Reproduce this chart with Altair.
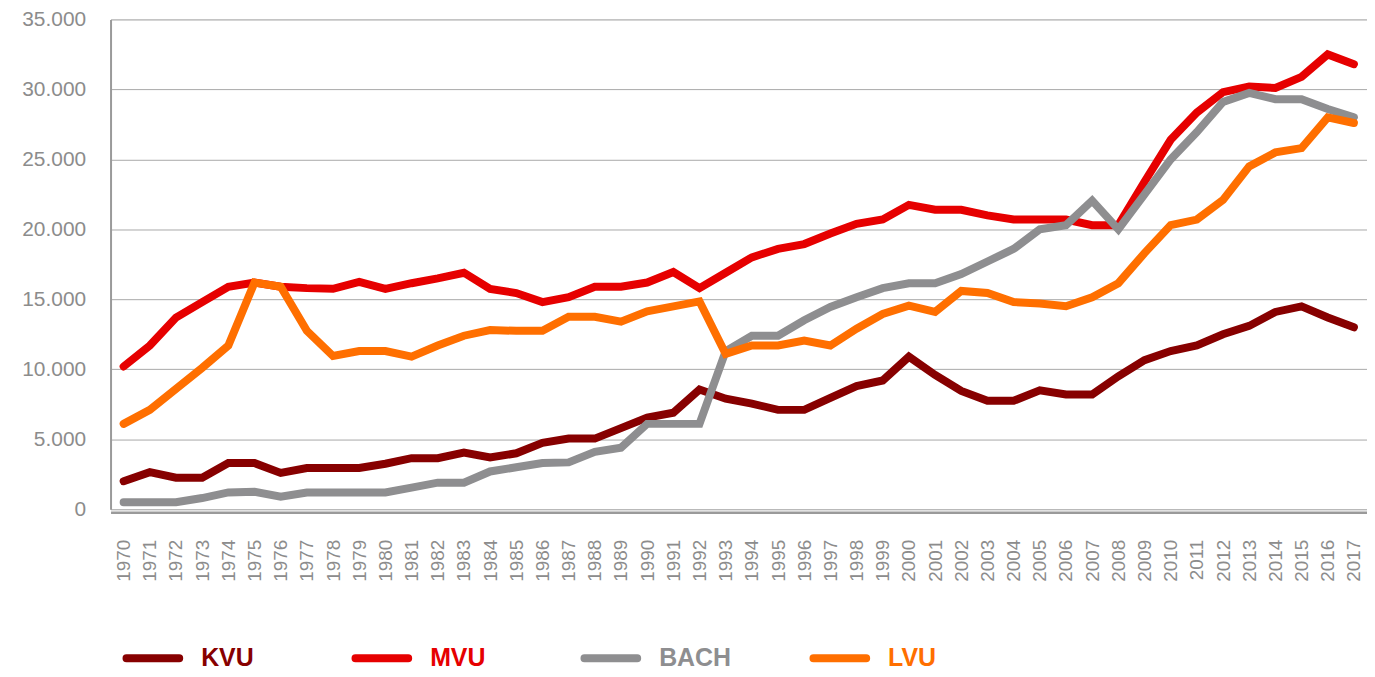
import altair as alt
import pandas as pd

years = ["1970", "1971", "1972", "1973", "1974", "1975", "1976", "1977", "1978", "1979",
         "1980", "1981", "1982", "1983", "1984", "1985", "1986", "1987", "1988", "1989",
         "1990", "1991", "1992", "1993", "1994", "1995", "1996", "1997", "1998", "1999",
         "2000", "2001", "2002", "2003", "2004", "2005", "2006", "2007", "2008", "2009",
         "2010", "2011", "2012", "2013", "2014", "2015", "2016", "2017"]

kvu = [2000, 2650, 2250, 2250, 3300, 3300, 2600, 2950, 2950, 2950,
       3250, 3650, 3650, 4050, 3700, 4000, 4750, 5050, 5050, 5800,
       6550, 6900, 8550, 7900, 7550, 7100, 7100, 7950, 8800, 9200,
       10900, 9600, 8450, 7750, 7750, 8500, 8200, 8200, 9500, 10650,
       11300, 11700, 12500, 13100, 14100, 14500, 13700, 13000]

mvu = [10200, 11700, 13700, 14800, 15900, 16200, 15900, 15800, 15750, 16250,
       15750, 16150, 16500, 16900, 15750, 15450, 14800, 15150, 15900, 15900,
       16200, 16950, 15800, 16900, 18000, 18600, 18950, 19700, 20400, 20700,
       21750, 21400, 21400, 21000, 20700, 20700, 20700, 20300, 20300, 23400,
       26400, 28350, 29800, 30200, 30100, 30900, 32500, 31800]

bach = [500, 500, 500, 800, 1200, 1250, 900, 1200, 1200, 1200,
        1200, 1550, 1900, 1900, 2700, 3000, 3300, 3350, 4100, 4400,
        6100, 6100, 6100, 11300, 12400, 12400, 13500, 14450, 15150, 15800,
        16150, 16150, 16800, 17700, 18600, 20000, 20300, 22050, 20000, 22500,
        25000, 26950, 29100, 29750, 29300, 29300, 28600, 28000]

lvu = [6100, 7100, 8600, 10100, 11700, 16200, 15900, 12750, 10950, 11300,
       11300, 10900, 11700, 12400, 12800, 12750, 12750, 13750, 13750, 13400,
       14150, 14500, 14850, 11100, 11700, 11700, 12050, 11700, 12900, 13950,
       14550, 14100, 15600, 15450, 14800, 14700, 14500, 15150, 16150, 18300,
       20300, 20700, 22100, 24500, 25500, 25800, 28000, 27600]

series_names = ["KVU", "MVU", "BACH", "LVU"]
series_colors = ["#870000", "#e60000", "#8e8e90", "#ff6f00"]
y_ticks = [0, 5000, 10000, 15000, 20000, 25000, 30000, 35000]

rows = []
for name, vals in zip(series_names, [kvu, mvu, bach, lvu]):
    for yr, v in zip(years, vals):
        rows.append({"Jahr": yr, "Wert": v, "Serie": name})
df = pd.DataFrame(rows)

label_font = "Liberation Sans"
grey = "#8c8c8c"

# capsule outline (stroked 4px) -> 8px thick line with round ends
capsule = ("M-0.868,-0.0656 L0.868,-0.0656 A0.0656,0.0656 0 0 1 0.868,0.0656 "
           "L-0.868,0.0656 A0.0656,0.0656 0 0 1 -0.868,-0.0656 Z")

x_enc = alt.X("Jahr:O", sort=years,
              scale=alt.Scale(type="point", padding=0.5),
              axis=alt.Axis(title=None, labelAngle=270, ticks=False, grid=False,
                            domain=True, domainColor="#9a9a9a", domainWidth=2.5,
                            offset=3,
                            labelColor=grey, labelFont=label_font, labelFontSize=19,
                            labelPadding=27))
y_enc = alt.Y("Wert:Q",
              scale=alt.Scale(domain=[0, 35000], nice=False, zero=True),
              axis=alt.Axis(title=None, values=y_ticks, ticks=False, grid=True,
                            gridColor="#a8a8a8", gridWidth=1,
                            domain=True, domainColor="#9a9a9a", domainWidth=2,
                            labelColor=grey, labelFont=label_font, labelFontSize=21,
                            labelPadding=25,
                            labelExpr="replace(format(datum.value, ','), ',', '.')"))
color_enc = alt.Color("Serie:N",
                      scale=alt.Scale(domain=series_names, range=series_colors),
                      legend=alt.Legend(
                          title=None, orient="none", legendX=10, legendY=609,
                          direction="horizontal", symbolType=capsule,
                          symbolSize=3721, symbolStrokeWidth=4,
                          labelFont=label_font, labelFontSize=25,
                          labelFontWeight="bold", labelOffset=16,
                          labelColor=alt.ExprRef(expr="scale('color', datum.value)"),
                          columnPadding=72, gridAlign="all"))

layers = []
for name in series_names:
    layers.append(
        alt.Chart(df)
        .transform_filter(alt.datum.Serie == name)
        .mark_line(strokeWidth=8, strokeCap="round", strokeJoin="miter")
        .encode(x=x_enc, y=y_enc, color=color_enc)
    )

chart = (
    alt.layer(*layers)
    .properties(width=1262, height=492,
                autosize=alt.AutoSizeParams(type="none"),
                padding={"left": 103, "top": 10, "right": 0, "bottom": 162})
    .configure_view(stroke=None)
    .configure(background="white")
)

chart.save("out.html", embed_options={"renderer": "svg", "actions": False})
